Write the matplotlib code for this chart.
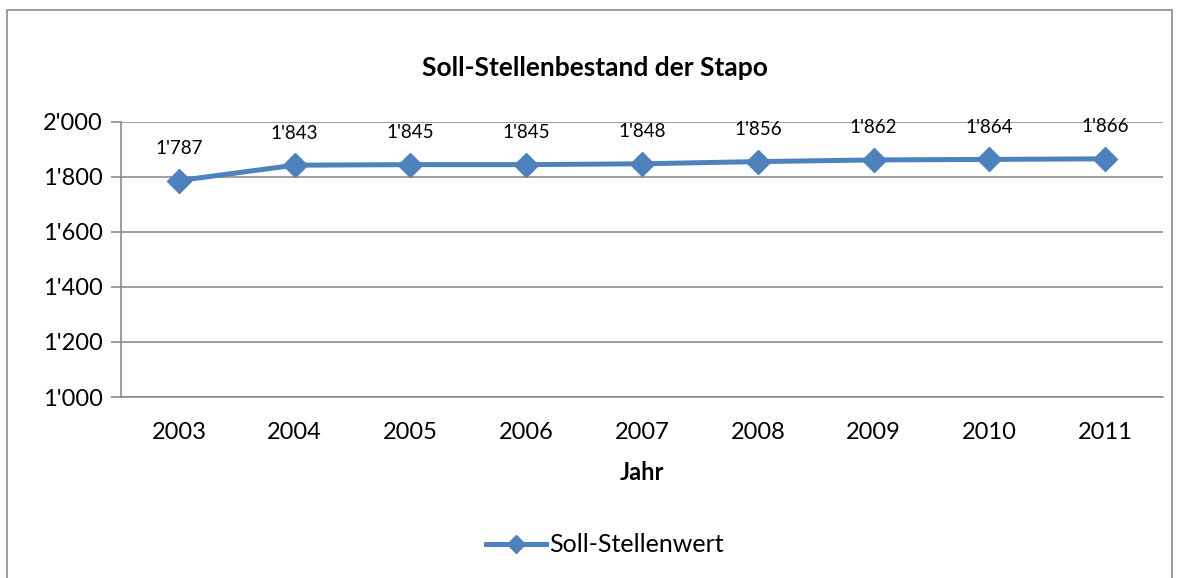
import matplotlib
matplotlib.use("Agg")

import matplotlib.pyplot as plt
from matplotlib.patches import Rectangle
from matplotlib.ticker import FuncFormatter

years = ["2003", "2004", "2005", "2006", "2007", "2008", "2009", "2010", "2011"]
stellen = [1787, 1843, 1845, 1845, 1848, 1856, 1862, 1864, 1866]
y_ticks = [1000, 1200, 1400, 1600, 1800, 2000]

plt.rcParams["font.family"] = ["Lato", "DejaVu Sans"]


def swiss(v, pos=None):
    return f"{int(v):,}".replace(",", "'")


fig = plt.figure(figsize=(11.79, 5.78), dpi=100)
# outer chart border
fig.patches.append(Rectangle((7 / 1179, -0.05), (1172 - 7) / 1179, 1.05 - 10 / 578,
                             transform=fig.transFigure, fill=False,
                             edgecolor="#8c8c8c", linewidth=1.2))

ax = fig.add_axes([121 / 1179, 181 / 578, 1042 / 1179, 275 / 578])
x = list(range(len(years)))
blue = "#4F81BD"
ax.plot(x, stellen, color=blue, linewidth=3.6, marker="D", markersize=12,
        label="Soll-Stellenwert", zorder=3, clip_on=False)

for xi, v in zip(x, stellen):
    ax.annotate(swiss(v), (xi, v), xytext=(0, 17), textcoords="offset points",
                ha="center", va="bottom", fontsize=13.5)

ax.set_xlim(-0.5, len(years) - 0.5)
ax.set_ylim(1000, 2000)
ax.set_yticks(y_ticks)
ax.yaxis.set_major_formatter(FuncFormatter(swiss))
ax.set_xticks(x)
ax.set_xticklabels(years)
ax.tick_params(axis="y", length=7, width=1.2, color="#8c8c8c", labelsize=17, pad=6)
ax.tick_params(axis="x", length=0, labelsize=17, pad=18)
ax.grid(axis="y", color="#8c8c8c", linewidth=1.2)
ax.set_axisbelow(True)
for s in ["top", "right"]:
    ax.spines[s].set_visible(False)
for s in ["left", "bottom"]:
    ax.spines[s].set_color("#8c8c8c")
    ax.spines[s].set_linewidth(1.2)

ax.set_xlabel("Jahr", fontsize=17, fontweight="bold", labelpad=13)
fig.text(595 / 1179, 1 - 68 / 578, "Soll-Stellenbestand der Stapo",
         ha="center", va="center", fontsize=19, fontweight="bold")

fig.legend(loc="center", bbox_to_anchor=(605 / 1179, 1 - 545 / 578), frameon=False,
           fontsize=18, handlelength=2.4, handletextpad=0.1, markerscale=0.8)

fig.savefig("out.png", dpi=100)
